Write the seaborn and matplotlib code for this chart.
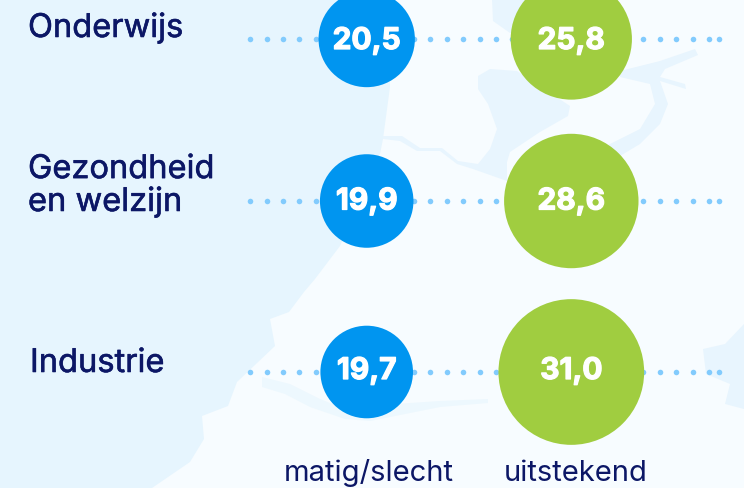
import matplotlib.pyplot as plt
import matplotlib.patheffects as pe
import numpy as np
import pandas as pd
import seaborn as sns

sectors = ['Onderwijs', 'Gezondheid\nen welzijn', 'Industrie']
matig = [20.5, 19.9, 19.7]
uitstekend = [25.8, 28.6, 31.0]
columns = ['matig/slecht', 'uitstekend']

# layout, in pixels of the 744x489 image
row_y = [40, 202, 373]
label_dy = [2, 0.5, -1]
col_x = [366.7, 571.3]
px_per_unit = 2.35  # circle radius per unit of value


# rough outline of the coast, sea is left of it
coast = [(0, 0), (388, 0), (390, 88), (383, 140), (380, 155), (340, 247), (315, 280),
         (304, 293), (289, 313), (270, 320), (275, 347), (237, 383), (228, 407),
         (202, 417), (204, 440), (190, 463), (152, 489), (0, 489)]
ijsselmeer = [(478, 77), (490, 70), (517, 72), (570, 107), (568, 117), (540, 133), (510, 153),
              (507, 163), (507, 182), (473, 170), (457, 165), (440, 152), (417, 152), (400, 142),
              (383, 140), (383, 137), (402, 137), (420, 149), (442, 149), (458, 162), (478, 165),
              (490, 150), (497, 130), (488, 105), (478, 90)]
wadden = [(492, 0), (493, 22), (510, 34), (530, 34), (530, 0)]
river = [(620, 72), (660, 62), (695, 50), (698, 56), (665, 70), (660, 78), (685, 85), (686, 90),
         (660, 82), (668, 105), (660, 125), (640, 145), (615, 160), (600, 150), (640, 130),
         (655, 105), (650, 85), (620, 78)]
delta_water = [(262, 378), (290, 385), (320, 400), (345, 410), (395, 405), (440, 402), (488, 400),
               (488, 404), (440, 408), (400, 416), (370, 422), (345, 420), (310, 408), (285, 395),
               (262, 388)]
east_blob = [(744, 325), (725, 345), (703, 350), (706, 375), (730, 385), (725, 405), (744, 410)]


def draw_map(ax):
    ax.add_patch(plt.Polygon(coast, color='#e6f5fe', lw=0, zorder=0))
    for shape in [ijsselmeer, wadden, river, east_blob]:
        ax.add_patch(plt.Polygon(shape, color='#e8f5fe', lw=0, zorder=0))
    ax.add_patch(plt.Polygon(delta_water, color='#edf8fe', lw=0, zorder=0))


def main():
    sns.set_theme(style='white')
    plt.rcParams['font.family'] = ['Inter', 'DejaVu Sans']

    df = pd.DataFrame({
        'x': np.repeat(col_x, 3),
        'y': row_y * 2,
        'dy': label_dy * 2,
        'kwaliteit': np.repeat(columns, 3),
        'waarde': matig + uitstekend,
    })
    # radius grows linearly with the value, s is diameter in points squared
    sizes = {v: (2 * px_per_unit * v * 0.72) ** 2 for v in df['waarde']}

    fig = plt.figure(figsize=(7.44, 4.89), dpi=100, facecolor='#f7fcff')
    ax = fig.add_axes([0, 0, 1, 1])
    ax.set_facecolor('#f7fcff')
    draw_map(ax)

    # dotted connectors
    dots = np.append(np.arange(250.3, 712, 16.38), 718.8)
    for y in row_y:
        ax.plot(dots, np.full(len(dots), y + 0.3), ls='none', marker='o', ms=4,
                mew=0, color='#82cbfd', zorder=1)

    sns.scatterplot(data=df, x='x', y='y', hue='kwaliteit', size='waarde', sizes=sizes,
                    palette=['#0095f0', '#a0cd40'], linewidth=0, legend=False,
                    alpha=1, zorder=2, ax=ax)

    thick = [pe.withStroke(linewidth=0.9, foreground='white')]
    for _, row in df.iterrows():
        ax.text(row['x'], row['y'] + row['dy'], f"{row['waarde']:.1f}".replace('.', ','),
                color='white', fontsize=21.5, fontweight='bold',
                ha='center', va='center', zorder=3, path_effects=thick)

    navy = '#0c1766'
    semi = [pe.withStroke(linewidth=0.4, foreground=navy)]
    ax.text(28, 38, sectors[0], color=navy, fontsize=23.5, va='baseline', path_effects=semi)
    ax.text(28, 212, sectors[1], color=navy, fontsize=23.5, va='baseline',
            linespacing=1.08, path_effects=semi)
    ax.text(30, 373, sectors[2], color=navy, fontsize=23.5, va='baseline', path_effects=semi)

    ax.text(369, 481, columns[0], color=navy, fontsize=21, ha='center', va='baseline')
    ax.text(576, 481, columns[1], color=navy, fontsize=21, ha='center', va='baseline')

    ax.set_xlim(0, 744)
    ax.set_ylim(489, 0)
    ax.axis('off')
    fig.savefig('out.png', dpi=100, facecolor=fig.get_facecolor())


if __name__ == '__main__':
    main()
